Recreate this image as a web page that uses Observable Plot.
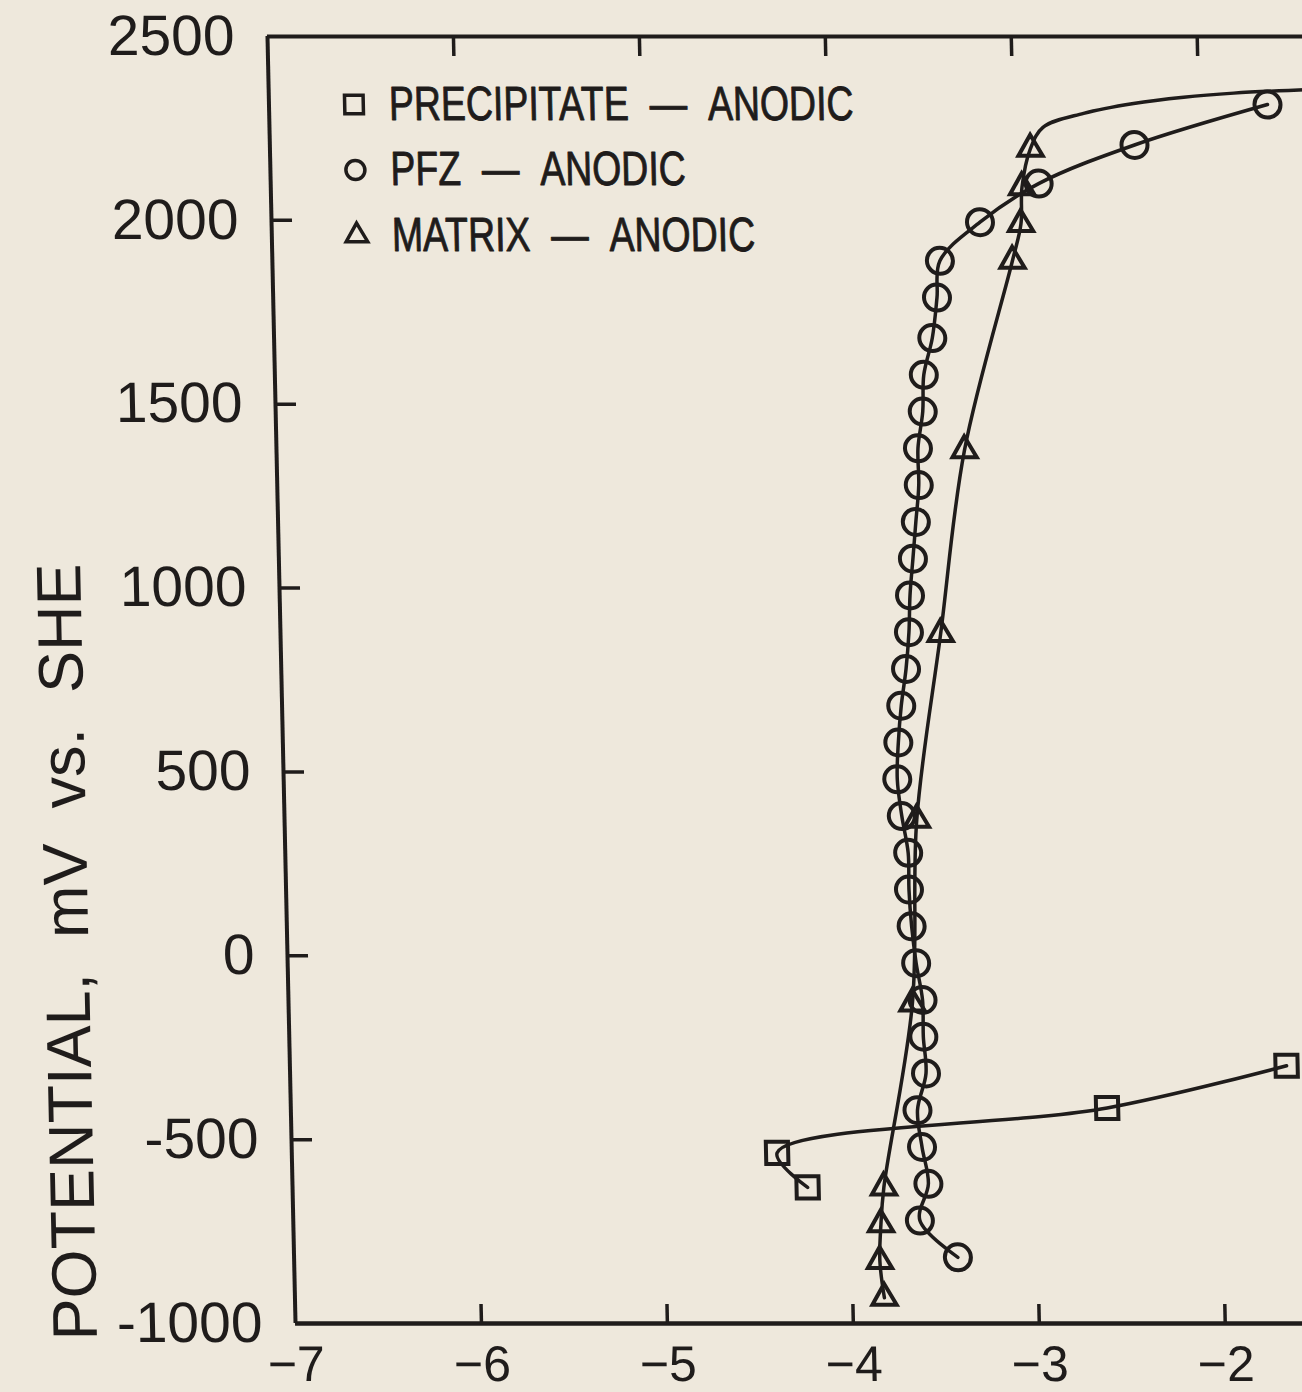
<!DOCTYPE html>
<html><head><meta charset="utf-8">
<script src="https://cdn.jsdelivr.net/npm/d3@7"></script>
<script src="https://cdn.jsdelivr.net/npm/@observablehq/plot@0.6"></script>
<style>
html,body{margin:0;padding:0;background:#eee8dc;overflow:hidden;width:1302px;height:1392px;}
#chart{position:absolute;left:0;top:0;}
</style></head><body><div id="chart"></div>
<script>
// ---- axes ----
const xTicks = [-7, -6, -5, -4, -3, -2];
const yTicks = [2500, 2000, 1500, 1000, 500, 0, -500, -1000];
const xDomain = [-7, -1.38];
const yDomain = [-1000, 2500];
const yLabel = "POTENTIAL,\u00a0\u00a0mV\u00a0\u00a0vs.\u00a0\u00a0SHE";

// ---- legend ----
const seriesNames = [
  "PRECIPITATE\u00a0\u00a0\u2014\u00a0\u00a0ANODIC",
  "PFZ\u00a0\u00a0\u2014\u00a0\u00a0ANODIC",
  "MATRIX\u00a0\u00a0\u2014\u00a0\u00a0ANODIC"
];
const seriesSymbols = ["square", "circle", "triangle"];

// ---- data (log current density vs potential, mV SHE) ----
const precipX = [-4.23, -4.39, -2.61, -1.64];
const precipY = [-630, -536, -414, -299];

const pfzX = [-3.43, -3.63, -3.58, -3.61, -3.63, -3.58, -3.59, -3.59, -3.62, -3.64,
              -3.65, -3.65, -3.68, -3.70, -3.69, -3.67, -3.64, -3.62, -3.61, -3.59,
              -3.57, -3.55, -3.55, -3.52, -3.51, -3.46, -3.43, -3.41, -3.19, -2.87,
              -2.35, -1.63];
const pfzY = [-820, -720, -620, -520, -420, -320, -220, -120, -20, 80,
              180, 280, 380, 480, 580, 680, 780, 880, 980, 1080,
              1180, 1280, 1380, 1480, 1580, 1680, 1790, 1890, 1995, 2100,
              2205, 2315];

const matrixX = [-3.83, -3.85, -3.84, -3.82, -3.645, -3.60, -3.45, -3.30, -3.02, -2.97, -2.96, -2.91];
const matrixY = [-930, -830, -730, -630, -130, 370, 875, 1375, 1890, 1990, 2090, 2195];
// continuation of the matrix curve (no markers, runs off the right edge)
const matrixTailX = [-2.84, -2.62, -2.35, -2.08, -1.81, -1.40];
const matrixTailY = [2253, 2291, 2318, 2335, 2346, 2356];

// ---- build ----
const ink = "#1f1c1b";
const rows = (xs, ys) => xs.map((x, i) => ({x, y: ys[i]}));
const precip = rows(precipX, precipY);
const pfz = rows(pfzX, pfzY);
const matrix = rows(matrixX, matrixY);
const matrixLine = matrix.concat(rows(matrixTailX, matrixTailY));
const fmtX = d => d < 0 ? "\u2212" + Math.abs(d) : String(d);
const fmtY = d => d < 0 ? "-" + Math.abs(d) : String(d);

const W = 1340, H = 1392, ML = 295, MR = 0, MT = 36, MB = 69;
const innerW = W - ML - MR, innerH = H - MT - MB;

const legendMarks = seriesNames.flatMap((name, i) => [
  Plot.dot([name], {frameAnchor: "top-left", dx: 85, dy: 68 + i * 65.5,
    symbol: seriesSymbols[i], r: [10.5, 9.5, 8][i], stroke: ink, strokeWidth: 3.5, fill: "none"}),
  Plot.text([name], {frameAnchor: "top-left", dx: 120, dy: 68 + i * 65.5, text: d => d,
    textAnchor: "start", lineAnchor: "middle", fontSize: 48, fill: ink, stroke: ink, strokeWidth: 0.9})
]);

const plot = Plot.plot({
  width: W, height: H,
  marginLeft: ML, marginRight: MR, marginTop: MT, marginBottom: MB,
  x: {domain: xDomain},
  y: {domain: yDomain},
  style: {background: "transparent", color: ink, fontFamily: "'Liberation Sans', Arial, sans-serif", overflow: "visible"},
  marks: [
    Plot.ruleY([yDomain[1]], {stroke: ink, strokeWidth: 4}),
    Plot.ruleY([yDomain[0]], {stroke: ink, strokeWidth: 4.5}),
    Plot.ruleX([xDomain[0]], {stroke: ink, strokeWidth: 4}),
    Plot.tickX(xTicks.slice(1), {x: d => d, stroke: ink, strokeWidth: 3.5, insetTop: innerH - 19}),
    Plot.tickX(xTicks.slice(1), {x: d => d, stroke: ink, strokeWidth: 3.5, insetBottom: innerH - 20}),
    Plot.tickY(yTicks.slice(1, -1), {y: d => d, stroke: ink, strokeWidth: 3.5, insetRight: innerW - 21}),
    Plot.axisX({ticks: xTicks, tickSize: 0, tickPadding: 22, fontSize: 50, tickFormat: fmtX, label: null}),
    Plot.axisY({ticks: yTicks, tickSize: 0, tickPadding: 33, fontSize: 57, tickFormat: fmtY, label: null}),
    Plot.text([yLabel], {frameAnchor: "bottom-left", text: d => d, rotate: -90, textAnchor: "start",
      lineAnchor: "middle", fontSize: 63, dx: -219, dy: 17, fill: ink}),
    Plot.line(precip, {x: "x", y: "y", curve: "catmull-rom", stroke: ink, strokeWidth: 3.5}),
    Plot.line(pfz, {x: "x", y: "y", curve: "catmull-rom", stroke: ink, strokeWidth: 3.5}),
    Plot.line(matrixLine, {x: "x", y: "y", curve: "catmull-rom", stroke: ink, strokeWidth: 3.5}),
    Plot.dot(precip, {x: "x", y: "y", symbol: "square", r: 12.5, stroke: ink, strokeWidth: 4, fill: "none"}),
    Plot.dot(pfz, {x: "x", y: "y", symbol: "circle", r: 13, stroke: ink, strokeWidth: 4, fill: "none"}),
    Plot.dot(matrix, {x: "x", y: "y", symbol: "triangle", r: 9, stroke: ink, strokeWidth: 4, fill: "none"}),
    ...legendMarks
  ]
});

// condensed plotter-style lettering for the legend
d3.select(plot).selectAll("text").filter(function () { return this.textContent.includes("ANODIC"); })
  .each(function () {
    const t = this.getAttribute("transform") || "";
    this.setAttribute("transform", t + " scale(0.78,1)");
  });

// scanned page is slightly sheared
plot.style.maxWidth = "none";
plot.style.transform = "skewX(1.247deg)";
plot.style.transformOrigin = `0px ${H - MB}px`;
document.getElementById("chart").appendChild(plot);
</script></body></html>
